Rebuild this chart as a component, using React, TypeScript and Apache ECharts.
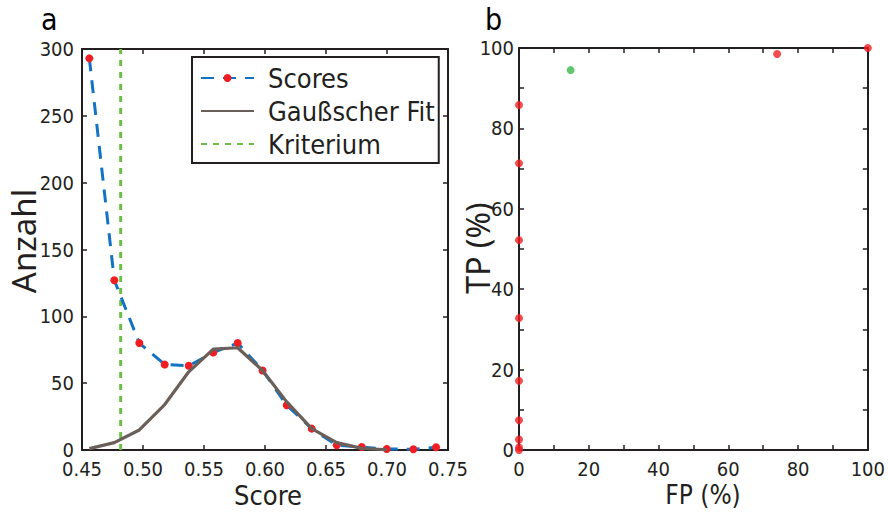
import React, { useEffect, useRef } from "react";
import * as echarts from "echarts";

// ---- data ----
const scoreX = [0.456, 0.4765, 0.497, 0.5178, 0.5375, 0.5576, 0.5776, 0.598, 0.6178, 0.6383, 0.6588, 0.6793, 0.6998, 0.7216, 0.7402];
const scoreCounts = [293, 127, 80, 64, 63, 73, 80, 59.5, 33.5, 16, 3.5, 2.2, 0.7, 0.6, 2];
const fitX = [0.456, 0.4765, 0.497, 0.5178, 0.5375, 0.5576, 0.5776, 0.598, 0.6178, 0.6383, 0.6588, 0.6793, 0.6998];
const fitCounts = [1, 5.5, 15, 34, 58.5, 75.5, 76.5, 59.5, 36, 16, 5.5, 1.2, 0.2];
const criterionX = 0.4817;
const criterionRange = [0, 300];
const rocFP = [0, 0, 0, 0, 0, 0, 0, 0, 0, 74, 100];
const rocTP = [0, 0.65, 2.6, 7.4, 17.2, 32.8, 52.2, 71.3, 85.8, 98.5, 100];
const critFP = [14.8];
const critTP = [94.5];
const legendNames = ["Scores", "Gaußscher Fit", "Kriterium"];

const TXT = "#231f20";
const NARROW = "'Liberation Sans Narrow', 'DejaVu Sans Condensed', 'Noto Sans', sans-serif";
const WIDE = "'Noto Sans', sans-serif";
const TICK_FS = 20;

function axisBase(extra: any) {
  return {
    type: "value",
    axisLine: { show: true, onZero: false, lineStyle: { color: TXT, width: 2 } },
    axisTick: { show: true, inside: true, length: 5, lineStyle: { color: TXT, width: 1.5 } },
    splitLine: { show: false },
    axisLabel: { color: TXT, fontSize: TICK_FS, fontFamily: NARROW, margin: 8, lineHeight: 18 },
    ...extra,
  };
}

export default function App() {
  const ref = useRef<HTMLDivElement>(null);
  useEffect(() => {
    document.body.style.margin = "0";
    const chart = echarts.init(ref.current!, null, { renderer: "svg" });
    const noLabel = { show: false };
    const option: any = {
      animation: false,
      backgroundColor: "#ffffff",
      grid: [
        { left: 82, top: 49, width: 366, height: 401 },
        { left: 519, top: 48, width: 366, height: 402 },
      ],
      xAxis: [
        axisBase({ gridIndex: 0, position: "bottom", min: 0.45, max: 0.75, interval: 0.05,
          axisLabel: { color: TXT, fontSize: TICK_FS, fontFamily: NARROW, margin: 10, lineHeight: 18, formatter: (v: number) => v.toFixed(2) } }),
        axisBase({ gridIndex: 0, position: "top", min: 0.45, max: 0.75, interval: 0.05, axisLabel: noLabel }),
        axisBase({ gridIndex: 1, position: "bottom", min: 0, max: 100, interval: 10,
          axisLabel: { color: TXT, fontSize: TICK_FS, fontFamily: NARROW, margin: 10, lineHeight: 18, formatter: (v: number) => (v % 20 === 0 ? String(v) : "") } }),
        axisBase({ gridIndex: 1, position: "top", min: 0, max: 100, interval: 10, axisLabel: noLabel }),
      ],
      yAxis: [
        axisBase({ gridIndex: 0, position: "left", min: 0, max: 300, interval: 50 }),
        axisBase({ gridIndex: 0, position: "right", min: 0, max: 300, interval: 50, axisLabel: noLabel }),
        axisBase({ gridIndex: 1, position: "left", min: 0, max: 100, interval: 10,
          axisLabel: { color: TXT, fontSize: TICK_FS, fontFamily: NARROW, margin: 5, lineHeight: 18, formatter: (v: number) => (v % 20 === 0 ? String(v) : "") } }),
        axisBase({ gridIndex: 1, position: "right", min: 0, max: 100, interval: 10, axisLabel: noLabel }),
      ],
      legend: {
        data: [
          { name: legendNames[0] },
          { name: legendNames[1], itemStyle: { opacity: 0 } },
          { name: legendNames[2], itemStyle: { opacity: 0 } },
        ],
        orient: "vertical",
        left: 192,
        top: 57,
        padding: [6, 4, 4, 8],
        itemWidth: 53,
        itemHeight: 10,
        itemGap: 3,
        borderColor: TXT,
        borderWidth: 2,
        backgroundColor: "#fff",
        textStyle: { color: TXT, fontSize: 27, fontFamily: NARROW, lineHeight: 30, padding: [0, 0, 0, 9] },
      },
      series: [
        {
          name: legendNames[0],
          type: "line",
          xAxisIndex: 0,
          yAxisIndex: 0,
          data: scoreX.map((x, i) => [x, scoreCounts[i]]),
          symbol: "circle",
          symbolSize: 8,
          itemStyle: { color: "#f01e23" },
          lineStyle: { color: "#1273c4", width: 3, type: [13, 9] },
          z: 3,
        },
        {
          name: legendNames[1],
          type: "line",
          xAxisIndex: 0,
          yAxisIndex: 0,
          data: fitX.map((x, i) => [x, fitCounts[i]]),
          symbol: "none",
          itemStyle: { color: "#5f554f" },
          lineStyle: { color: "#6b6059", width: 3.2 },
          z: 4,
        },
        {
          name: legendNames[2],
          type: "line",
          xAxisIndex: 0,
          yAxisIndex: 0,
          data: criterionRange.map((y) => [criterionX, y]),
          symbol: "none",
          itemStyle: { color: "#6cbf45" },
          lineStyle: { color: "#6cbf45", width: 3, type: [6, 6] },
          z: 2,
        },
        {
          name: "ROC",
          type: "scatter",
          xAxisIndex: 2,
          yAxisIndex: 2,
          data: rocFP.map((x, i) => [x, rocTP[i]]),
          symbolSize: 8,
          itemStyle: { color: "#f01e23" },
          clip: false,
          z: 5,
        },
        {
          name: "Kriteriumspunkt",
          type: "scatter",
          xAxisIndex: 2,
          yAxisIndex: 2,
          data: critFP.map((x, i) => [x, critTP[i]]),
          symbolSize: 8,
          itemStyle: { color: "#3cb64a" },
          clip: false,
          z: 5,
        },
      ],
      graphic: [
        { type: "text", left: 41, top: 4, style: { text: "a", font: `30px ${NARROW}`, fill: "#000" } },
        { type: "text", left: 485, top: 4, style: { text: "b", font: `30px ${NARROW}`, fill: "#000" } },
        { type: "text", x: 268, y: 495, style: { text: "Score", font: `27px ${NARROW}`, fill: TXT, align: "center", verticalAlign: "middle" } },
        { type: "text", x: 703, y: 495, style: { text: "FP (%)", font: `26px ${NARROW}`, fill: TXT, align: "center", verticalAlign: "middle" } },
        { type: "text", x: 23, y: 241, rotation: Math.PI / 2, style: { text: "Anzahl", font: `33px ${WIDE}`, fill: TXT, align: "center", verticalAlign: "middle" } },
        { type: "text", x: 477, y: 248, rotation: Math.PI / 2, style: { text: "TP (%)", font: `32px ${WIDE}`, fill: TXT, align: "center", verticalAlign: "middle" } },
      ],
    };
    chart.setOption(option);
    return () => chart.dispose();
  }, []);
  return <div ref={ref} style={{ width: 888, height: 512 }} />;
}
